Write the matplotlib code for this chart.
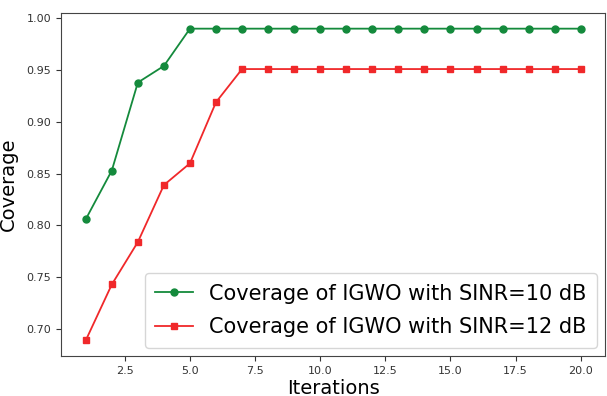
import matplotlib
matplotlib.use("Agg")
import matplotlib.pyplot as plt

iterations = list(range(1, 21))
cov_sinr10 = [0.806, 0.853, 0.938, 0.954, 0.990] + [0.990] * 15
cov_sinr12 = [0.689, 0.743, 0.784, 0.839, 0.860, 0.919, 0.951] + [0.951] * 13
labels = ["Coverage of IGWO with SINR=10 dB", "Coverage of IGWO with SINR=12 dB"]

fig = plt.figure(figsize=(6.07, 3.96), dpi=100)
ax = fig.add_axes([0.1005, 0.101, 0.897, 0.866])

ax.plot(iterations, cov_sinr10, color="#148a3c", marker="o", markersize=5, lw=1.3, label=labels[0])
ax.plot(iterations, cov_sinr12, color="#f0282a", marker="s", markersize=5, lw=1.3, label=labels[1])

ax.set_xlabel("Iterations", fontsize=14, labelpad=2)
ax.set_ylabel("Coverage", fontsize=14, labelpad=6)
ax.tick_params(labelsize=8, colors="#333333")
for s in ax.spines.values():
    s.set_color("#444444")

ax.legend(loc="lower right", fontsize=15, handlelength=1.8, borderaxespad=0.4,
          labelspacing=0.65, borderpad=0.5)

fig.savefig("out.png", dpi=100)
